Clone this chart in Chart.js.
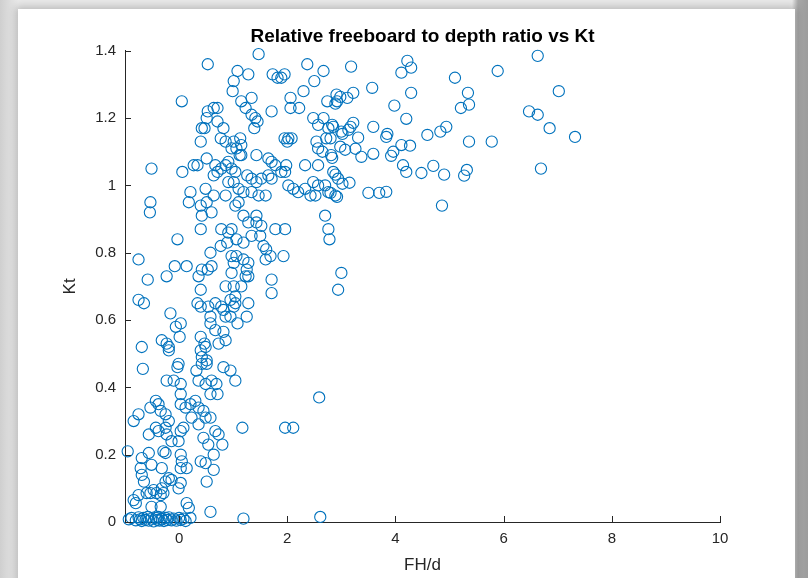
<!DOCTYPE html>
<html>
<head>
<meta charset="utf-8">
<script src="https://cdn.jsdelivr.net/npm/chart.js@4"></script>
<style>
html, body { margin: 0; padding: 0; width: 808px; height: 578px; overflow: hidden;
  background: linear-gradient(to right, #cfcfcf 0px, #e9e9e9 18px, #e9e9e9 792px, #a8a8a8 798px, #9c9c9c 808px); }
#panel { position: absolute; left: 18px; top: 9px; width: 777px; height: 600px; background: #fff;
  box-shadow: 0 0 8px 2px rgba(0,0,0,0.22); }
#wrap { position: absolute; left: 0; top: 0; width: 808px; height: 578px; }
</style>
</head>
<body>
<div id="panel"></div>
<div id="wrap"><canvas id="chart" width="808" height="578"></canvas></div>
<script>
const xTicks = [0, 2, 4, 6, 8, 10];
const yTicks = [0, 0.2, 0.4, 0.6, 0.8, 1, 1.2, 1.4];

// FH/d and Kt, point by point
const fhd = [
  1.47, 0.53, 1.08, 1.28, 1.01, 1.73, 1.82, 1.89, 1.95, 2.37, 2.67, 2.50, 2.30, 2.06, 2.74, 2.91, 2.92, 1.15, 1.34, 0.99,
  2.06, 2.22, 1.71, 1.23, 1.34, 1.41, 1.45, 1.39, 2.48, 2.67, 2.57, 2.76, 2.83, 2.72, 2.80, 3.00, 1.95, 2.02, 2.08, 2.00,
  1.01, 1.13, 1.15, 1.06, 1.12, 1.15, 2.54, 2.57, 2.65, 2.81, 1.43, 0.91, 0.97, 1.04, 1.65, 1.71, 1.78, 1.98, 1.89, 2.33,
  2.57, 2.85, 2.94, 1.26, 1.34, 1.43, 1.52, 1.65, 1.71, 1.96, 2.02, 2.11, 2.20, 2.33, 2.48, 2.57, 2.70, 2.76, 2.89, 1.01,
  1.10, 1.19, 1.34, 1.47, 1.60, 2.43, 2.52,
  0.05, 0.53, 0.64, 0.71, 0.51, 0.71, 0.82, 0.42, 0.47, 0.40, 0.77, 0.86, 0.97, -0.51, 0.06, 0.27, 0.34, 0.51, 0.67, 0.64,
  0.71, 0.78, 0.86, 0.91, 0.49, 0.64, 0.86, 0.21, 0.18, -0.53, -0.54,
  0.40, 0.51, 0.42, 0.60, 0.40, 0.78, 0.91, -0.03, 0.58, 0.77, 0.89, -0.75, -0.08, 0.14, 0.42, 0.53, 0.60, 0.36, -0.58, -0.23,
  0.86, 0.97, 0.40, -0.75, -0.65, 0.34, 0.40, 0.54, 0.67, 0.78, 0.82, 0.95, 1.01, -0.16, -0.06, 0.03, 0.01, 0.40, 0.58, 0.67,
  0.58, 0.86, -0.69, -0.32, -0.23, -0.19, -0.19, 0.47, 0.49, 0.73, 0.40, 0.42, 0.51, -0.01,
  1.04, 1.10, 1.19, 1.43, 1.43, 1.52, 1.28, 0.97, 1.34, 1.50, 1.78, 1.96, 2.70, 2.76, 2.78, 1.06, 1.19, 1.56, 1.61, 1.60,
  1.69, 1.93, 0.97, 1.06, 1.19, 1.28, 1.01, 1.25, 1.23, 1.28, 1.01, 1.15, 1.71, 1.71, 3.00, 2.94, 1.04, 1.04, 1.28, 1.25,
  1.08, 0.95,
  -0.67, -0.03, -0.23, -0.10, 0.03, 0.32, 0.42, 0.51, 0.36, 0.49, 0.60, 0.69, 0.03, 0.58, -0.43, -0.53, -0.38, -0.34, -0.75, -0.84,
  -0.25, -0.19, -0.25, 0.03, 0.12, 0.21, 0.30, 0.36, 0.23, 0.45, 0.49, 0.58, 0.36, 0.08, 0.03, -0.43, -0.38, -0.56, -0.23, -0.14,
  -0.01, 0.45, 0.67, 0.73, 0.80, 0.54, -0.95, -0.29, -0.25, -0.56, -0.69, -0.71, -0.69, -0.51, -0.32, 0.03, 0.05, 0.03, 0.14, 0.40,
  0.49, 0.64, 0.64, 0.51, -0.65, -0.19, -0.14, -0.25, -0.32, -0.47, -0.53, -0.60, -0.42, -0.34, -0.29, -0.01, 0.03, -0.84, -0.75, -0.80,
  -0.51, -0.34, 0.14, 0.18, 0.58,
  -0.93, -0.88, -0.80, -0.75, -0.72, -0.69, -0.66, -0.62, -0.58, -0.56, -0.51, -0.47, -0.43, -0.40, -0.38, -0.36, -0.32, -0.28, -0.25, -0.22,
  -0.19, -0.14, -0.10, -0.05, 0.00, 0.03, 0.08, 0.12, 0.21, 1.19, 2.61,
  0.95, 1.04, 1.17, 1.96, 2.11, 2.59, 0.82, 0.86, 0.82, 0.71,
  6.63, 5.89, 4.22, 4.29, 4.11, 3.18, 5.10, 5.34, 5.21, 5.36, 4.29, 3.98, 3.57, 3.22, 2.98, 3.11, 2.89, 4.20, 3.59, 3.22,
  3.13, 3.17, 3.02, 3.31, 3.85, 3.83, 4.59, 4.83, 4.94, 5.36, 5.78, 6.47, 6.63, 6.85, 7.02, 7.32, 6.69, 2.85, 2.98, 3.07,
  3.26, 3.37, 3.59, 3.92, 3.96, 4.11, 4.27, 4.14, 4.20, 4.48, 4.70, 4.90, 5.27, 5.32, 2.83, 2.89, 3.02, 3.15, 2.80, 2.92,
  3.50, 3.70, 3.83, 4.86
];
const kt = [
  1.39, 1.36, 1.34, 1.33, 1.31, 1.33, 1.32, 1.32, 1.33, 1.36, 1.34, 1.31, 1.28, 1.26, 1.25, 1.27, 1.25, 1.25, 1.26, 1.28,
  1.23, 1.23, 1.22, 1.23, 1.21, 1.20, 1.19, 1.17, 1.20, 1.20, 1.18, 1.17, 1.18, 1.14, 1.14, 1.16, 1.14, 1.14, 1.14, 1.13,
  1.13, 1.14, 1.12, 1.11, 1.09, 1.09, 1.13, 1.11, 1.10, 1.09, 1.09, 1.07, 1.05, 1.04, 1.08, 1.07, 1.06, 1.06, 1.04, 1.06,
  1.06, 1.04, 1.02, 1.03, 1.02, 1.01, 1.02, 1.03, 1.02, 1.04, 1.00, 0.99, 0.98, 0.99, 1.01, 1.00, 1.00, 0.98, 0.97, 1.01,
  0.99, 0.98, 0.98, 0.97, 0.97, 0.97, 0.97,
  1.25, 1.22, 1.23, 1.23, 1.20, 1.19, 1.17, 1.17, 1.17, 1.13, 1.14, 1.13, 1.11, 1.05, 1.04, 1.06, 1.06, 1.08, 1.06, 1.03,
  1.04, 1.05, 1.06, 1.01, 0.99, 0.97, 0.97, 0.98, 0.95, 0.95, 0.92,
  0.94, 0.95, 0.91, 0.92, 0.87, 0.87, 0.86, 0.84, 0.80, 0.82, 0.83, 0.78, 0.76, 0.76, 0.75, 0.75, 0.76, 0.73, 0.72, 0.73,
  0.70, 0.74, 0.69, 0.66, 0.65, 0.65, 0.64, 0.64, 0.65, 0.64, 0.63, 0.66, 0.64, 0.62, 0.58, 0.59, 0.55, 0.55, 0.59, 0.57,
  0.61, 0.61, 0.52, 0.54, 0.53, 0.52, 0.51, 0.53, 0.52, 0.53, 0.51, 0.49, 0.48, 0.47,
  0.94, 0.95, 0.91, 0.91, 0.89, 0.88, 0.89, 0.87, 0.85, 0.85, 0.87, 0.87, 0.91, 0.87, 0.84, 0.84, 0.83, 0.82, 0.81, 0.78,
  0.79, 0.79, 0.79, 0.79, 0.78, 0.77, 0.77, 0.75, 0.73, 0.73, 0.70, 0.70, 0.72, 0.68, 0.74, 0.69, 0.67, 0.65, 0.65, 0.61,
  0.59, 0.61,
  0.455, 0.46, 0.42, 0.42, 0.41, 0.45, 0.47, 0.47, 0.42, 0.41, 0.42, 0.41, 0.38, 0.38, 0.36, 0.34, 0.35, 0.33, 0.32, 0.30,
  0.32, 0.30, 0.28, 0.35, 0.34, 0.35, 0.36, 0.34, 0.31, 0.33, 0.31, 0.31, 0.29, 0.28, 0.27, 0.28, 0.27, 0.26, 0.26, 0.24,
  0.24, 0.25, 0.27, 0.26, 0.23, 0.23, 0.21, 0.21, 0.205, 0.205, 0.19, 0.16, 0.14, 0.17, 0.16, 0.20, 0.18, 0.16, 0.16, 0.18,
  0.175, 0.20, 0.155, 0.12, 0.12, 0.13, 0.125, 0.12, 0.10, 0.095, 0.086, 0.086, 0.086, 0.08, 0.086, 0.10, 0.116, 0.065, 0.08, 0.056,
  0.045, 0.045, 0.056, 0.042, 0.03,
  0.008, 0.012, 0.005, 0.014, 0.008, 0.003, 0.012, 0.006, 0.015, 0.004, 0.010, 0.002, 0.012, 0.006, 0.015, 0.004, 0.009, 0.003, 0.012, 0.006,
  0.014, 0.005, 0.010, 0.004, 0.012, 0.006, 0.010, 0.003, 0.012, 0.010, 0.015,
  0.45, 0.42, 0.28, 0.28, 0.28, 0.37, 0.46, 0.54, 0.565, 0.38,
  1.385, 1.34, 1.37, 1.35, 1.335, 1.353, 1.32, 1.275, 1.23, 1.24, 1.275, 1.237, 1.29, 1.275, 1.263, 1.26, 1.243, 1.198, 1.174, 1.186,
  1.165, 1.174, 1.153, 1.142, 1.153, 1.144, 1.15, 1.16, 1.174, 1.13, 1.13, 1.22, 1.21, 1.17, 1.28, 1.144, 1.05, 1.174, 1.115, 1.106,
  1.109, 1.085, 1.094, 1.088, 1.10, 1.12, 1.118, 1.06, 1.04, 1.037, 1.058, 1.032, 1.029, 1.046, 1.082, 1.032, 1.005, 1.008, 0.978, 0.966,
  0.978, 0.978, 0.981, 0.94
];

const axisColor = '#262626';
const markerColor = '#0072BD';
const tickFont = { family: '"Liberation Sans", Arial, sans-serif', size: 15 };
const labelFont = { family: '"Liberation Sans", Arial, sans-serif', size: 17 };

const points = fhd.map((v, i) => ({ x: v, y: kt[i] }));

// MATLAB style ticks point into the plot
const inwardTicks = {
  id: 'inwardTicks',
  afterDraw(chart) {
    const { ctx, chartArea, scales: { x, y } } = chart;
    ctx.save();
    ctx.strokeStyle = axisColor;
    ctx.lineWidth = 1;
    ctx.beginPath();
    x.ticks.forEach(t => {
      const px = Math.round(x.getPixelForValue(t.value)) + 0.5;
      ctx.moveTo(px, chartArea.bottom);
      ctx.lineTo(px, chartArea.bottom - 6);
    });
    y.ticks.forEach(t => {
      const py = Math.round(y.getPixelForValue(t.value)) + 0.5;
      ctx.moveTo(chartArea.left, py);
      ctx.lineTo(chartArea.left + 6, py);
    });
    ctx.stroke();
    ctx.restore();
  }
};

new Chart(document.getElementById('chart'), {
  type: 'scatter',
  data: {
    datasets: [{
      data: points,
      showLine: false,
      pointStyle: 'circle',
      pointRadius: 5.6,
      pointHoverRadius: 5.6,
      borderWidth: 1.1,
      borderColor: markerColor,
      backgroundColor: 'rgba(0,0,0,0)',
      clip: false
    }]
  },
  options: {
    responsive: false,
    animation: false,
    devicePixelRatio: 1,
    events: [],
    layout: { padding: { left: 0, top: 0, right: 88, bottom: 0 } },
    plugins: {
      legend: { display: false },
      tooltip: { enabled: false },
      title: {
        display: true,
        text: 'Relative freeboard to depth ratio vs Kt',
        fullSize: false,
        color: '#000',
        font: { family: '"Liberation Sans", Arial, sans-serif', size: 19, weight: 'bold' },
        padding: { top: 25, bottom: 3 }
      }
    },
    scales: {
      x: {
        type: 'linear',
        min: -1,
        max: 10,
        afterBuildTicks: s => { s.ticks = xTicks.map(v => ({ value: v })); },
        afterFit: s => { s.height = 56; },
        grid: { display: false, drawTicks: false },
        border: { display: true, color: axisColor, width: 1 },
        ticks: { color: axisColor, font: tickFont, padding: 8, callback: v => String(v) },
        title: { display: true, text: 'FH/d', color: axisColor, font: labelFont, padding: { top: 0, bottom: 2 } }
      },
      y: {
        type: 'linear',
        min: 0,
        max: 1.4,
        afterBuildTicks: s => { s.ticks = yTicks.map(v => ({ value: v })); },
        afterFit: s => { s.width = 125; },
        grid: { display: false, drawTicks: false },
        border: { display: true, color: axisColor, width: 1 },
        ticks: { color: axisColor, font: tickFont, padding: 9, callback: v => String(+v.toFixed(1)) },
        title: { display: true, text: 'Kt', color: axisColor, font: labelFont, padding: { top: 60, bottom: 0 } }
      }
    }
  },
  plugins: [inwardTicks]
});
</script>
</body>
</html>
